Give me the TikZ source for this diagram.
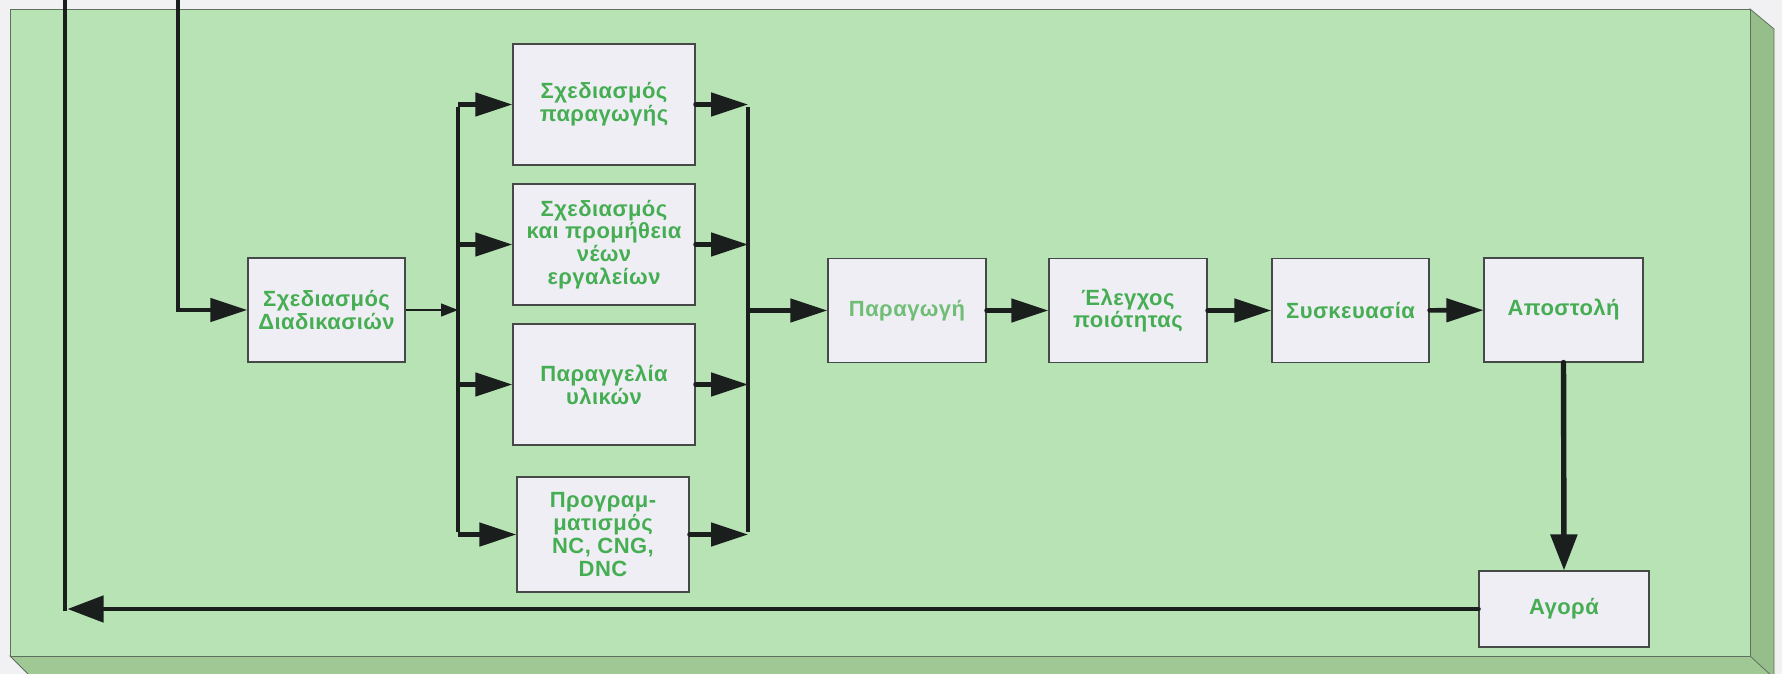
\documentclass[tikz,border=0pt]{standalone}
\usepackage{fontspec}
\setmainfont{Liberation Sans}
\usetikzlibrary{arrows.meta}

\definecolor{paper}{RGB}{241,241,244}
\definecolor{panel}{RGB}{183,227,181}
\definecolor{panelside}{RGB}{150,190,138}
\definecolor{panelbottom}{RGB}{160,200,148}
\definecolor{paneledge}{RGB}{96,112,96}
\definecolor{boxfill}{RGB}{238,238,244}
\definecolor{boxedge}{RGB}{70,74,70}
\definecolor{boxtext}{RGB}{70,174,82}
\definecolor{boxtextsoft}{RGB}{112,190,118}
\definecolor{wire}{RGB}{26,30,28}

\tikzset{
  stepbox/.style={draw=boxedge, line width=1.1pt, fill=boxfill, text=boxtext,
    font=\bfseries\fontsize{22}{22.7}\selectfont\addfontfeatures{LetterSpace=2},
    align=center, inner sep=0pt},
  rowbox/.style={stepbox, minimum width=158pt, minimum height=104pt},
  colbox/.style={stepbox, minimum width=182pt, minimum height=121pt},
  wire/.style={draw=wire, line width=4.6pt},
  flow/.style={draw=wire, line width=4.6pt, line cap=round,
    -{Triangle[length=37pt,width=23pt]}},
  thinflow/.style={draw=wire, line width=1.3pt,
    -{Triangle[length=17pt,width=13pt]}}
}

\begin{document}
\begin{tikzpicture}[x=1pt,y=-1pt]
\useasboundingbox (0,0) rectangle (1782,674);

% page and the raised green board
\fill[paper] (0,0) rectangle (1782,674);
\fill[panelside, draw=paneledge, line width=0.8pt]
  (1750,9) -- (1774,29) -- (1774,690) -- (1750,656) -- cycle;
\fill[panelbottom, draw=paneledge, line width=0.8pt]
  (10,656) -- (1750,656) -- (1774,678) -- (32,678) -- cycle;
\fill[panel, draw=paneledge, line width=0.8pt] (10,9) rectangle (1750,656);

% process steps
\node[rowbox, minimum width=157pt] (proc) at (326.5,310) {Σχεδιασμός\\Διαδικασιών};

\node[colbox] (plan)  at (604,104.5) {Σχεδιασμός\\παραγωγής};
\node[colbox] (tools) at (604,244.5) {Σχεδιασμός\\και προμήθεια\\νέων\\εργαλείων};
\node[colbox] (mat)   at (604,384.5) {Παραγγελία\\υλικών};
\node[colbox, minimum width=172pt, minimum height=115pt] (nc) at (603,534.5)
  {Προγραμ-\\ματισμός\\NC, CNG,\\DNC};

\node[rowbox, text=boxtextsoft] (prod) at (907,310.5) {Παραγωγή};
\node[rowbox] (qc)   at (1128,310.5) {Έλεγχος\\ποιότητας};
\node[rowbox, minimum width=157pt] (pack) at (1350.5,310.5) {Συσκευασία};
\node[rowbox, minimum width=159pt] (ship) at (1563.5,310) {Αποστολή};
\node[stepbox, minimum width=170pt, minimum height=76pt] (market) at (1564,609) {Αγορά};

% bus lines on both sides of the parallel column
\coordinate (busL) at (458,310);
\coordinate (busR) at (748,310.5);

% incoming line from above into the first step
\coordinate (intop) at (178,0);
\draw[flow, line cap=butt] (intop) |- (proc.west);

% fan-out
\draw[thinflow] (proc.east) -- (busL);
\draw[wire] ([yshift=-2.3pt]plan.west -| busL) -- ([yshift=2.3pt]nc.west -| busL);
\foreach \n in {plan,tools,mat,nc}
  \draw[flow, line cap=butt] (\n.west -| busL) -- (\n.west);

% fan-in
\draw[wire] ([yshift=-2.3pt]plan.east -| busR) -- ([yshift=2.3pt]nc.east -| busR);
\foreach \n in {plan,tools,mat,nc}
  \draw[flow] (\n.east) -- (\n.east -| busR);
\draw[flow, line cap=butt] (busR) -- (prod.west);

% main sequence
\draw[flow] (prod) -- (qc);
\draw[flow] (qc) -- (pack);
\draw[flow] (pack) -- (ship);
\draw[flow, line width=5.4pt, -{Triangle[length=36pt,width=26pt]}] (ship.south) -- (market.north);

% feedback from the market, leaving upwards
\coordinate (fbtip) at (67.5,609);
\coordinate (fbcorner) at (65,611.3);
\coordinate (fbtop) at (65,0);
\draw[flow, -{Triangle[length=36pt,width=26pt]}] (market.west) -- (fbtip);
\draw[wire] (fbcorner) -- (fbtop);
\end{tikzpicture}
\end{document}
